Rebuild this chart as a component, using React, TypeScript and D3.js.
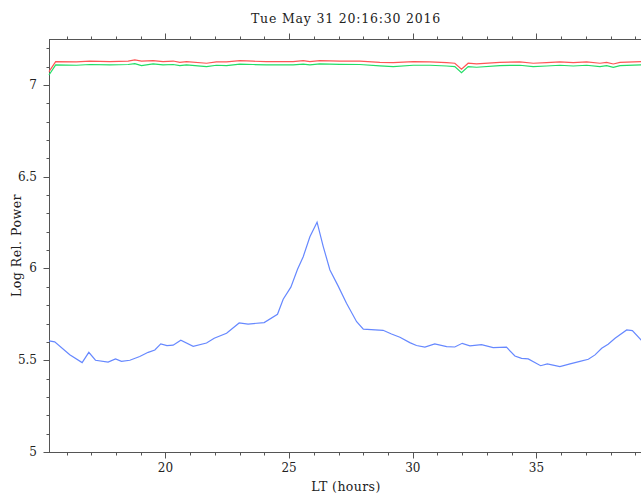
import React, { useEffect, useRef } from 'react';
import * as d3 from 'd3';

// Top pair of curves (red / green) share one time base
const hoursTop = [15.29, 15.56, 16.4, 16.94, 17.75, 18.49, 18.76, 19.03, 19.5, 19.9, 20.31, 20.58, 20.85,
  21.66, 22.06, 22.47, 23.01, 23.54, 24.08, 25.16, 25.57, 25.84, 26.24, 27.05, 27.86, 28.67, 29.21,
  30.02, 30.69, 31.37, 31.7, 31.97, 32.24, 32.58, 33.52, 34.33, 34.87, 35.41, 35.95, 36.49, 37.03,
  37.57, 37.84, 38.11, 38.38, 39.3];
const redValues = [7.072, 7.127, 7.125, 7.129, 7.127, 7.129, 7.136, 7.129, 7.132, 7.127, 7.13, 7.123, 7.127,
  7.118, 7.125, 7.125, 7.132, 7.129, 7.127, 7.127, 7.132, 7.127, 7.132, 7.13, 7.129, 7.123, 7.121,
  7.127, 7.125, 7.121, 7.118, 7.085, 7.118, 7.114, 7.123, 7.125, 7.118, 7.121, 7.125, 7.121, 7.125,
  7.118, 7.123, 7.114, 7.123, 7.127];
const greenValues = [7.054, 7.109, 7.107, 7.111, 7.109, 7.111, 7.116, 7.105, 7.114, 7.109, 7.111, 7.105, 7.109,
  7.1, 7.107, 7.105, 7.113, 7.111, 7.109, 7.109, 7.113, 7.109, 7.114, 7.112, 7.111, 7.104, 7.1,
  7.107, 7.107, 7.103, 7.1, 7.067, 7.1, 7.096, 7.105, 7.107, 7.1, 7.103, 7.107, 7.103, 7.107,
  7.1, 7.105, 7.096, 7.105, 7.109];

// Lower curve (blue)
const hoursBlue = [15.29, 15.52, 16.13, 16.63, 16.9, 17.17, 17.68, 17.98, 18.22, 18.56, 18.96, 19.3, 19.57,
  19.81, 20.06, 20.31, 20.62, 21.12, 21.66, 21.97, 22.47, 22.98, 23.34, 23.99, 24.53, 24.76, 25.07,
  25.34, 25.57, 25.84, 26.13, 26.38, 26.65, 26.98, 27.32, 27.73, 28.0, 28.8, 29.14, 29.48, 29.88,
  30.15, 30.49, 30.89, 31.37, 31.7, 32.0, 32.31, 32.78, 33.25, 33.79, 34.13, 34.4, 34.67, 35.17,
  35.44, 35.95, 36.36, 36.76, 37.1, 37.37, 37.64, 37.9, 38.18, 38.65, 38.88, 39.3];
const blueValues = [5.605, 5.6, 5.53, 5.487, 5.543, 5.5, 5.49, 5.507, 5.494, 5.5, 5.52, 5.543, 5.556,
  5.589, 5.58, 5.582, 5.609, 5.576, 5.594, 5.62, 5.647, 5.703, 5.697, 5.705, 5.75, 5.832, 5.898,
  5.996, 6.064, 6.173, 6.252, 6.119, 5.992, 5.905, 5.81, 5.71, 5.669, 5.663, 5.643, 5.625, 5.596,
  5.58, 5.571, 5.589, 5.574, 5.572, 5.592, 5.578, 5.585, 5.569, 5.571, 5.523, 5.51, 5.507, 5.47,
  5.48, 5.465, 5.48, 5.494, 5.505, 5.529, 5.565, 5.587, 5.62, 5.665, 5.661, 5.6];

const yTickLabels = [5, 5.5, 6, 6.5, 7];
const xTickLabels = [20, 25, 30, 35];
const title = 'Tue May 31 20:16:30 2016';

export default function App() {
  const ref = useRef<SVGSVGElement>(null);

  useEffect(() => {
    const width = 641;
    const height = 496;
    const margin = { top: 39, right: -2, bottom: 44, left: 49 };
    const svg = d3.select(ref.current);
    svg.selectAll('*').remove();

    const x = d3.scaleLinear().domain([15.29, 39.31]).range([margin.left, width - margin.right]);
    const y = d3.scaleLinear().domain([5, 7.25]).range([height - margin.bottom, margin.top]);

    const axisColor = '#555';
    const font = "'DejaVu Serif', serif";
    const x0 = x.range()[0], x1 = x.range()[1];
    const yb = y.range()[0], yt = y.range()[1];

    // frame
    svg.append('rect')
      .attr('x', x0 + 0.5).attr('y', yt + 0.5)
      .attr('width', x1 - x0).attr('height', yb - yt)
      .attr('fill', 'none').attr('stroke', axisColor).attr('stroke-width', 1);

    // x ticks (every hour, major every 5), outward on bottom and top
    const xt = d3.range(16, 40, 1);
    xt.forEach(h => {
      const len = h % 5 === 0 ? 6 : 3;
      const px = Math.round(x(h)) + 0.5;
      svg.append('line').attr('x1', px).attr('x2', px).attr('y1', yb + 0.5).attr('y2', yb + 0.5 + len)
        .attr('stroke', axisColor);
      svg.append('line').attr('x1', px).attr('x2', px).attr('y1', yt + 0.5).attr('y2', yt + 0.5 - len)
        .attr('stroke', axisColor);
    });
    svg.append('g').selectAll('text').data(xTickLabels).join('text')
      .attr('x', d => x(d)).attr('y', yb + 20)
      .attr('text-anchor', 'middle').attr('font-family', font).attr('font-size', 12)
      .attr('fill', '#222').text(d => d);

    // y ticks (every 0.1, major every 0.5), outward on left
    const yt2 = d3.range(50, 73, 1).map(v => v / 10);
    yt2.forEach(v => {
      const len = Math.round(v * 10) % 5 === 0 ? 6 : 3;
      const py = Math.round(y(v)) + 0.5;
      svg.append('line').attr('x1', x0 + 0.5).attr('x2', x0 + 0.5 - len).attr('y1', py).attr('y2', py)
        .attr('stroke', axisColor);
    });
    svg.append('g').selectAll('text').data(yTickLabels).join('text')
      .attr('x', x0 - 12).attr('y', d => y(d) + 4)
      .attr('text-anchor', 'end').attr('font-family', font).attr('font-size', 12)
      .attr('fill', '#222').text(d => d);

    // titles
    svg.append('text').attr('x', (x0 + x1) / 2).attr('y', 23)
      .attr('text-anchor', 'middle').attr('font-family', font).attr('font-size', 12.5)
      .attr('letter-spacing', 0.8)
      .attr('fill', '#222').text(title);
    svg.append('text').attr('x', (x0 + x1) / 2).attr('y', 491)
      .attr('text-anchor', 'middle').attr('font-family', font).attr('font-size', 12.5)
      .attr('letter-spacing', 0.4)
      .attr('fill', '#222').text('LT (hours)');
    svg.append('text')
      .attr('transform', `translate(21,${(yb + yt) / 2}) rotate(-90)`)
      .attr('text-anchor', 'middle').attr('font-family', font).attr('font-size', 12.5)
      .attr('letter-spacing', 0.5)
      .attr('fill', '#222').text('Log Rel. Power');

    const line = d3.line<[number, number]>().x(d => x(d[0])).y(d => y(d[1]));

    const series: [number[], number[], string][] = [
      [hoursBlue, blueValues, '#6688ff'],
      [hoursTop, greenValues, '#22dd66'],
      [hoursTop, redValues, '#ff5555'],
    ];
    series.forEach(([hs, vs, color]) => {
      svg.append('path')
        .datum(hs.map((h, i) => [h, vs[i]] as [number, number]))
        .attr('fill', 'none').attr('stroke', color).attr('stroke-width', 1.2)
        .attr('d', line);
    });
  }, []);

  return (
    <svg ref={ref} width={641} height={496}
      style={{ position: 'absolute', left: 0, top: 0, background: '#fff' }} />
  );
}
